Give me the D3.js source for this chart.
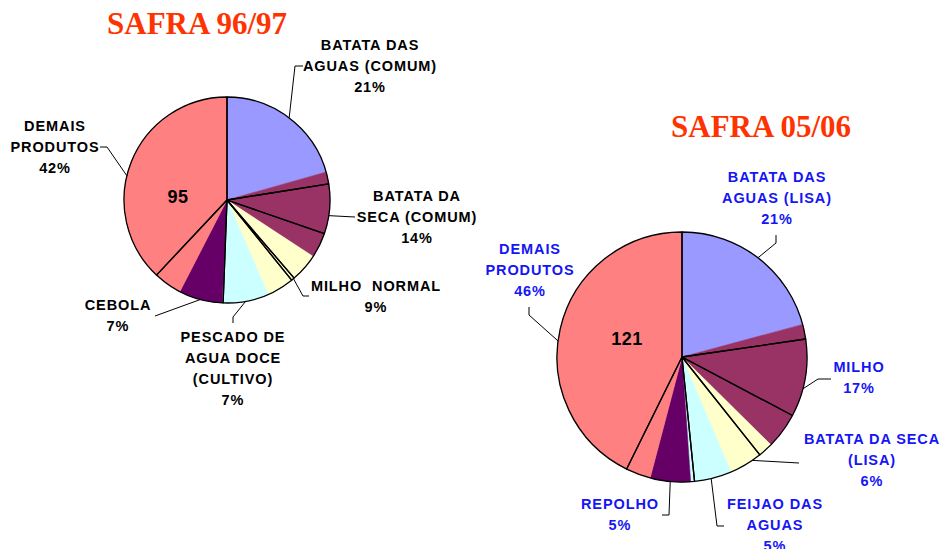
<!DOCTYPE html>
<html>
<head>
<meta charset="utf-8">
<script src="https://cdn.jsdelivr.net/npm/d3@7"></script>
<style>
  body { margin: 0; background: #fff; }
  text { white-space: pre; }
</style>
</head>
<body>
<div id="chart"></div>
<script>
// slice colours (Excel default palette)
const sliceColors = ["#9999FF", "#993366", "#FFFFCC", "#CCFFFF", "#660066", "#FF8080"];

// SAFRA 96/97
const categories9697 = ["BATATA DAS\nAGUAS (COMUM)", "BATATA DA\nSECA (COMUM)", "MILHO  NORMAL", "PESCADO DE\nAGUA DOCE\n(CULTIVO)", "CEBOLA", "DEMAIS\nPRODUTOS"];
const values9697 = [20.6, 13.6, 9.2, 7.3, 6.8, 42.4];
const borders9697 = [22.5, 7.8, 8.4, 0.5, 11.4, 11.4, 38.0];
const total9697 = "95";

// SAFRA 05/06
const categories0506 = ["BATATA DAS\nAGUAS (LISA)", "MILHO", "BATATA DA SECA\n(LISA)", "FEIJAO DAS\nAGUAS", "REPOLHO", "DEMAIS\nPRODUTOS"];
const values0506 = [20.8, 16.6, 6.2, 5.3, 5.2, 45.9];
const borders0506 = [22.7, 10.05, 6.55, 9.1, 8.9, 42.7];
const total0506 = "121";

const svg = d3.select("#chart").append("svg")
  .attr("width", 943)
  .attr("height", 549);

svg.append("rect").attr("width", 943).attr("height", 549).attr("fill", "#fff");

// label placement: text centre x, first baseline y, leader bend points
const layout9697 = [
  { x: 370, y: 50, leader: [[295, 66], [303, 66]] },
  { x: 417, y: 201, leader: [[355, 217]] },
  { x: 376, y: 291, leader: [[303, 296], [309, 296]] },
  { x: 233, y: 342, leader: [[233, 317], [233, 323]] },
  { x: 118, y: 310, leader: [[155, 316]] },
  { x: 55, y: 131, leader: [[107, 147], [100, 147]] }
];
const layout0506 = [
  { x: 777, y: 182, leader: [[776, 243], [776, 235]] },
  { x: 859, y: 372, leader: [[818, 379], [831, 379]] },
  { x: 872, y: 444, leader: [[799, 463]] },
  { x: 775, y: 509, leader: [[717, 526], [724, 526]] },
  { x: 620, y: 509, leader: [[669, 515], [662, 515]] },
  { x: 530, y: 254, leader: [[529, 315], [529, 307]] }
];

function drawPie(cfg) {
  const g = svg.append("g").attr("transform", `translate(${cfg.cx},${cfg.cy})`);
  const pie = d3.pie().sort(null).value(d => d);
  const arc = d3.arc().innerRadius(0).outerRadius(cfg.r);
  const edge = d3.arc().innerRadius(cfg.r).outerRadius(cfg.r);

  const slices = pie(cfg.values);
  const total = d3.sum(cfg.values);

  // coloured slices
  g.selectAll("path.slice")
    .data(slices)
    .join("path")
    .attr("class", "slice")
    .attr("d", arc)
    .attr("fill", (d, i) => sliceColors[i])
    .attr("stroke", (d, i) => sliceColors[i])
    .attr("stroke-width", 0.5);

  // black border segments
  g.selectAll("path.border")
    .data(pie(cfg.borders))
    .join("path")
    .attr("class", "border")
    .attr("d", arc)
    .attr("fill", "none")
    .attr("stroke", "#000")
    .attr("stroke-width", 1.3)
    .attr("stroke-linejoin", "round");

  // total in the big slice
  g.append("text")
    .attr("x", cfg.totalPos[0])
    .attr("y", cfg.totalPos[1])
    .attr("text-anchor", "middle")
    .attr("font-family", "Liberation Sans, Arial, sans-serif")
    .attr("font-weight", "bold")
    .attr("font-size", 18)
    .attr("letter-spacing", 0.5)
    .attr("fill", "#000")
    .text(cfg.total);

  // leader lines
  slices.forEach((d, i) => {
    const c = edge.centroid(d);
    const pts = [[c[0] + cfg.cx, c[1] + cfg.cy]].concat(cfg.layout[i].leader);
    svg.append("path")
      .attr("d", d3.line()(pts))
      .attr("fill", "none")
      .attr("stroke", "#000")
      .attr("stroke-width", 1);
  });

  // labels
  slices.forEach((d, i) => {
    const lines = cfg.categories[i].split("\n");
    lines.push(Math.round(d.data / total * 100) + "%");
    const t = svg.append("text")
      .attr("text-anchor", "middle")
      .attr("font-family", "Liberation Sans, Arial, sans-serif")
      .attr("font-weight", "bold")
      .attr("font-size", 14.5)
      .attr("letter-spacing", 0.9)
      .attr("fill", cfg.labelColor);
    lines.forEach((s, j) => {
      t.append("tspan")
        .attr("x", cfg.layout[i].x)
        .attr("y", cfg.layout[i].y + j * 21)
        .text(s);
    });
  });

  // title
  svg.append("text")
    .attr("x", cfg.title[1])
    .attr("y", cfg.title[2])
    .attr("text-anchor", "middle")
    .attr("font-family", "Liberation Serif, Times New Roman, serif")
    .attr("font-weight", "bold")
    .attr("font-size", 31)
    .attr("fill", "#FF3300")
    .text(cfg.title[0]);
}

drawPie({
  cx: 227, cy: 200, r: 103,
  values: values9697, borders: borders9697, categories: categories9697,
  layout: layout9697, total: total9697, totalPos: [-49, 3],
  labelColor: "#000", title: ["SAFRA 96/97", 197, 34]
});

drawPie({
  cx: 682, cy: 357, r: 125,
  values: values0506, borders: borders0506, categories: categories0506,
  layout: layout0506, total: total0506, totalPos: [-55, -12],
  labelColor: "#1515F5", title: ["SAFRA 05/06", 761, 137]
});
</script>
</body>
</html>
